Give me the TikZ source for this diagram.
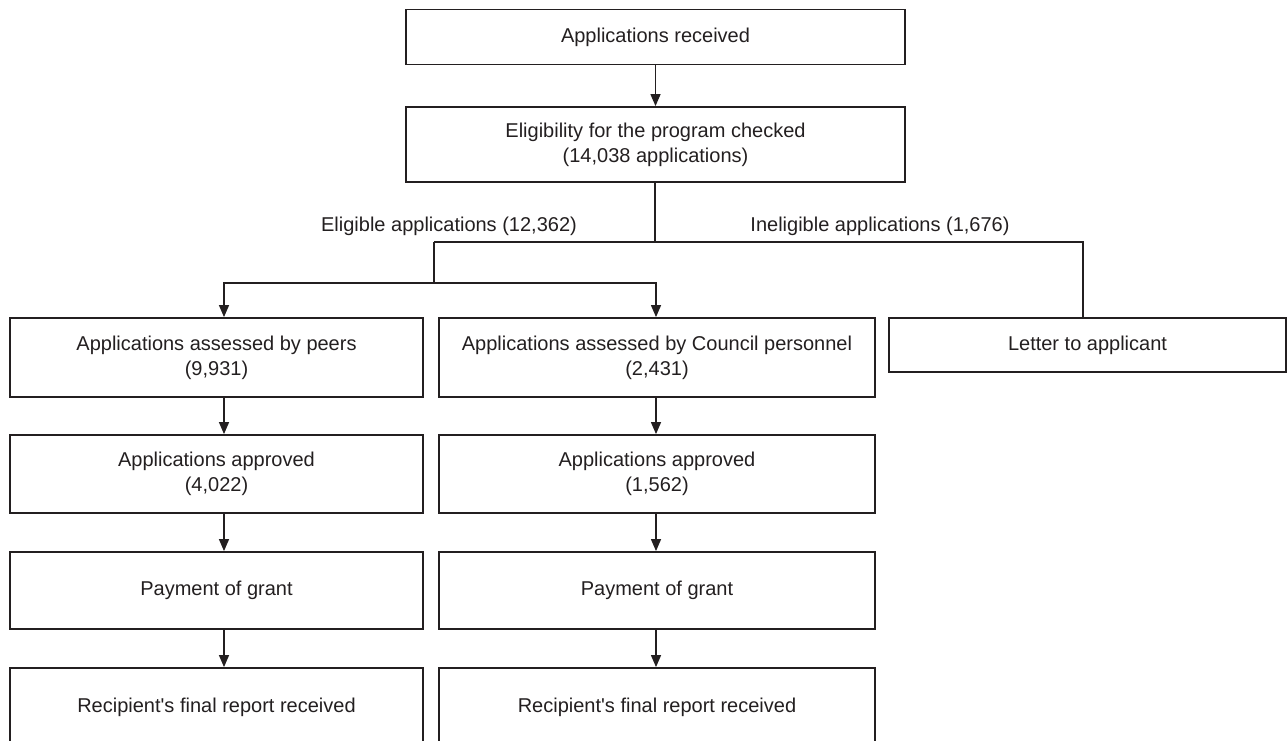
\documentclass[tikz,border=0pt]{standalone}
\usepackage{fontspec}
\setmainfont{Liberation Sans}
\usepackage{tikz}
\usetikzlibrary{arrows.meta, calc, positioning}
\usepackage{xcolor}
\definecolor{ink}{RGB}{35,31,32}

\begin{document}
\begin{tikzpicture}[x=1pt, y=-1pt]

% TikZ styles
\tikzset{
  stage/.style={rectangle, draw=ink, line width=1.8pt, text=ink, align=center, inner sep=0pt, font=\fontsize{20}{25}\selectfont},
  tag/.style={text=ink, inner sep=0pt, font=\fontsize{20}{25}\selectfont},
  arrow/.style={-{Triangle[length=12pt, width=10pt]}, draw=ink, line width=1.3pt},
  branch/.style={draw=ink, line width=1.3pt}
}
\useasboundingbox (0,0) rectangle (1287,741);

%==========================
% Eingang und Pruefung
%==========================
\node[stage, minimum width=499pt, minimum height=55pt] (received) at (655.5, 37) {Applications received};
\node[stage, minimum width=499pt, minimum height=75pt] (eligible) at (655.5, 144.5) {Eligibility for the program checked\\(14,038 applications)};

\node[coordinate] (fork) at (655, 242) {};
\node[coordinate] (forkeligible) at (434, 242) {};
\node[coordinate] (forkineligible) at (1083, 242) {};
\node[coordinate] (splitpoint) at (434, 283) {};

\node[tag] (eligibletag) at (449, 226) {Eligible applications (12,362)};
\node[tag] (ineligibletag) at (880, 226) {Ineligible applications (1,676)};

%==========================
% Linke Spalte: Peers
%==========================
\node[stage, minimum width=413pt, minimum height=79pt] (peers)    at (216.5, 357.5) {Applications assessed by peers\\(9,931)};
\node[stage, minimum width=413pt, minimum height=78pt] (approvedpeers) at (216.5, 474) {Applications approved\\(4,022)};
\node[stage, minimum width=413pt, minimum height=77pt] (paypeers) at (216.5, 590.5) {Payment of grant};
\node[stage, minimum width=413pt, minimum height=78pt] (reportpeers) at (216.5, 707) {Recipient\textquotesingle s final report received};

%==========================
% Mittlere Spalte: Council
%==========================
\node[stage, minimum width=436pt, minimum height=79pt] (council)  at (657, 357.5) {Applications assessed by Council personnel\\(2,431)};
\node[stage, minimum width=436pt, minimum height=78pt] (approvedcouncil) at (657, 474) {Applications approved\\(1,562)};
\node[stage, minimum width=436pt, minimum height=77pt] (paycouncil) at (657, 590.5) {Payment of grant};
\node[stage, minimum width=436pt, minimum height=78pt] (reportcouncil) at (657, 707) {Recipient\textquotesingle s final report received};

% Rechte Spalte
\node[stage, minimum width=397pt, minimum height=54pt] (letter) at (1087.5, 345) {Letter to applicant};

% Pfeile oben
\draw[arrow] (received.south) -- (eligible.north);
\draw[branch] (eligible.south -| fork) -- (fork);
\draw[branch] (forkeligible) -- (forkineligible) -- (forkineligible |- letter.north);
\draw[branch] (forkeligible) -- (splitpoint);
\draw[arrow] (splitpoint) -| ([xshift=7.5pt]peers.north);
\draw[arrow] (splitpoint) -| ([xshift=-1pt]council.north);

% Pfeile links
\draw[arrow] ([xshift=7.5pt]peers.south) -- ([xshift=7.5pt]approvedpeers.north);
\draw[arrow] ([xshift=7.5pt]approvedpeers.south) -- ([xshift=7.5pt]paypeers.north);
\draw[arrow] ([xshift=7.5pt]paypeers.south) -- ([xshift=7.5pt]reportpeers.north);

% Pfeile Mitte
\draw[arrow] ([xshift=-1pt]council.south) -- ([xshift=-1pt]approvedcouncil.north);
\draw[arrow] ([xshift=-1pt]approvedcouncil.south) -- ([xshift=-1pt]paycouncil.north);
\draw[arrow] ([xshift=-1pt]paycouncil.south) -- ([xshift=-1pt]reportcouncil.north);
\end{tikzpicture}
\end{document}
